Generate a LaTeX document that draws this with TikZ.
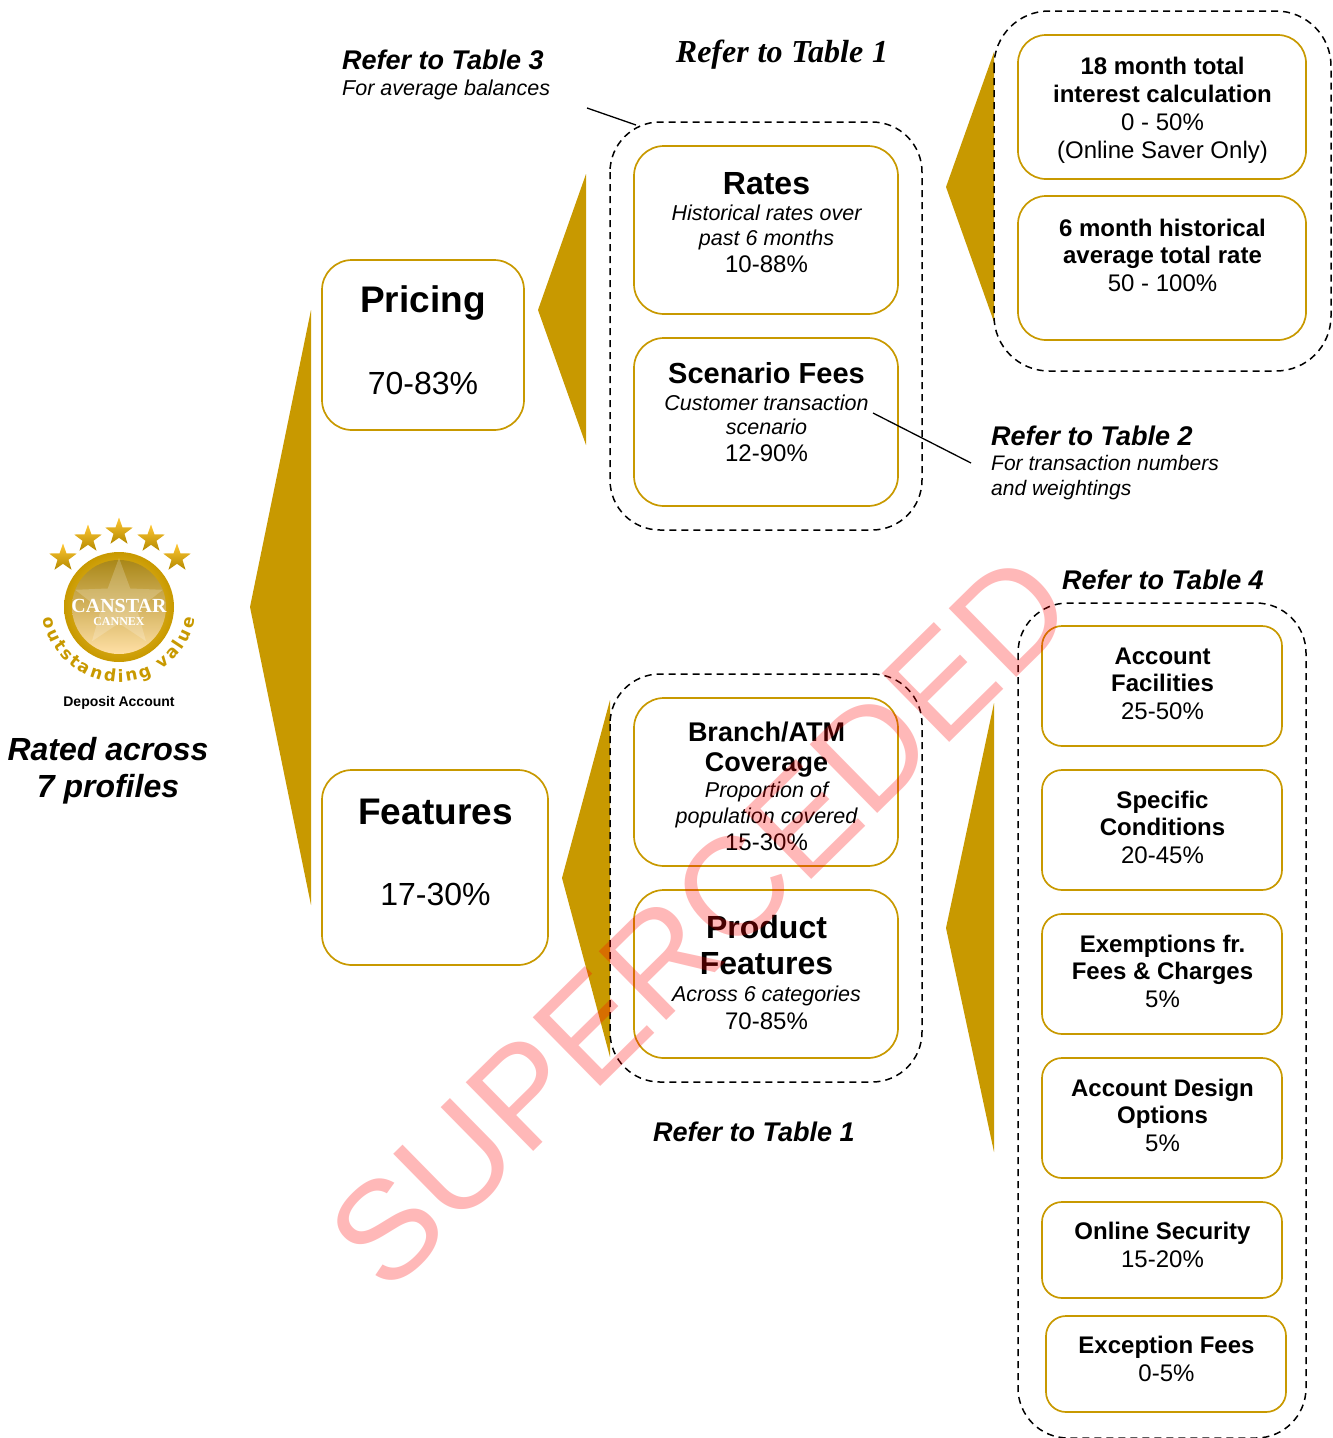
\documentclass[tikz,border=0pt]{standalone}
\usepackage{fontspec}
\setmainfont{Liberation Sans}
\newfontfamily\tnrfont{Liberation Serif}
\newfontfamily\djvfont{DejaVu Sans}
\usetikzlibrary{shapes.geometric,decorations.text,calc}
\definecolor{gold}{HTML}{C89900}
\newcommand{\LL}[3]{{\fontsize{#1}{#2}\selectfont\spaceskip=.278em\xspaceskip=.278em\rule{0pt}{.75em}#3\par}}
\tikzset{
 x=1pt,y=-1pt,
 goldbox/.style={draw=gold,line width=1.7pt,rounded corners=#1,inner sep=0pt,fill=none},
 goldbox/.default=30pt,
 dashbox/.style={draw=black,line width=1.5pt,dash pattern=on 7pt off 5pt,rounded corners=#1,fill=none},
 wedge/.style={fill=gold,draw=none},
 txt/.style={anchor=north,inner sep=0pt,align=center,text width=#1,execute at begin node={\lineskiplimit=-200pt\relax}},
 txt/.default=320pt,
 lefttxt/.style={anchor=north west,inner sep=0pt,align=left,text width=300pt,execute at begin node={\lineskiplimit=-200pt\relax}},
 goldstar/.style={star,star points=5,star point ratio=2.5,minimum size=29pt,inner sep=0pt,top color=#1,bottom color=gold!90!black,draw=none},
 goldstar/.default={yellow!45!orange!80!white},
}
\begin{document}
\begin{tikzpicture}
\useasboundingbox (0,0) rectangle (1333,1438);
% wedges
\fill[wedge] (311,310) -- (250,607) -- (311,905) -- cycle;
\fill[wedge] (586,174) -- (538,310) -- (586,445) -- cycle;
\fill[wedge] (994,52) -- (946,187) -- (994,322) -- cycle;
\fill[wedge] (610,700) -- (562,878) -- (610,1057) -- cycle;
\fill[wedge] (994,703) -- (946,928) -- (994,1152) -- cycle;
% dashed groups
\draw[dashbox=50pt] (610,122) rectangle (922,530);
\draw[dashbox=55pt] (994,11) rectangle (1331,371);
\draw[dashbox=50pt] (610,674) rectangle (922,1082);
\draw[dashbox=50pt] (1018,603) rectangle (1306,1438);
% boxes
\draw[goldbox=30pt] (322,260) rectangle (524,430);
\draw[goldbox=30pt] (322,770) rectangle (548,965);
\draw[goldbox=30pt] (634,146) rectangle (898,314);
\draw[goldbox=30pt] (634,338) rectangle (898,506);
\draw[goldbox=30pt] (634,698) rectangle (898,866);
\draw[goldbox=30pt] (634,890) rectangle (898,1058);
\draw[goldbox=28pt] (1018,35) rectangle (1306,179);
\draw[goldbox=28pt] (1018,196) rectangle (1306,340);
\draw[goldbox=20pt] (1042,626) rectangle (1282,746);
\draw[goldbox=20pt] (1042,770) rectangle (1282,890);
\draw[goldbox=20pt] (1042,914) rectangle (1282,1034);
\draw[goldbox=20pt] (1042,1058) rectangle (1282,1178);
\draw[goldbox=20pt] (1042,1202) rectangle (1282,1298);
\draw[goldbox=20pt] (1046,1316) rectangle (1286,1412);
% connectors
\coordinate (t3a) at (587,108); \coordinate (t3b) at (636,125);
\coordinate (t2a) at (873,413); \coordinate (t2b) at (971,463);
\draw[line width=1.3pt] (t3a) -- (t3b);
\draw[line width=1.3pt] (t2a) -- (t2b);
% logo
\shade[inner color=yellow!50!orange!70!white,outer color=gold] (119,607) circle (55);
\shade[top color=gold!80!black!90!white,bottom color=yellow!30!orange!35!white] (119,607) circle (47);
\node[star,star points=5,star point ratio=2.4,minimum size=92pt,inner sep=0pt,fill=white,fill opacity=.2] (bigstar) at (119,604) {};
\node[goldstar] (s1) at (63,558) {};
\node[goldstar] (s2) at (88,539) {};
\node[goldstar] (s3) at (119,532) {};
\node[goldstar] (s4) at (151,539) {};
\node[goldstar] (s5) at (177,558) {};
\node[inner sep=0pt,text=white] (cs) at (119,606) {\tnrfont\bfseries\fontsize{20}{20}\selectfont CANSTAR};
\node[inner sep=0pt,text=white] (cx) at (119,622) {\tnrfont\bfseries\fontsize{12}{12}\selectfont CANNEX};
\path[decorate,decoration={text along path,text align=fit to path,
 text={|\djvfont\bfseries\fontsize{17}{17}\selectfont\color{gold}|outstanding value}}]
 (119,605) ++(170:77) arc[start angle=170,end angle=10,radius=77];
\node[inner sep=0pt] (da) at (119,703) {\bfseries\fontsize{14}{14}\selectfont Deposit Account};
% texts
\node[txt] (rated) at (108,736) {\bfseries\itshape\LL{32}{37}{Rated across}\LL{32}{37}{7 profiles}};
\node[lefttxt] (ref3) at (342,49) {\LL{27}{27}{\bfseries\itshape Refer to Table 3}\LL{21.5}{26}{\itshape For average balances}};
\node[txt] (ref1a) at (782,38) {\LL{32}{32}{\tnrfont\bfseries\itshape Refer to Table 1}};
\node[lefttxt] (ref2) at (991,425) {\LL{27}{27}{\bfseries\itshape Refer to Table 2}\LL{21}{25}{\itshape For transaction numbers}\LL{21}{25}{\itshape and weightings}};
\node[txt] (ref4) at (1163,569) {\LL{27}{27}{\bfseries\itshape Refer to Table 4}};
\node[txt] (ref1b) at (754,1121) {\LL{27}{27}{\bfseries\itshape Refer to Table 1}};
\node[txt] (pr) at (423,285) {\LL{37}{37}{\bfseries Pricing}\LL{32}{82}{70-83\%}};
\node[txt] (fe) at (435.5,797) {\LL{37}{37}{\bfseries Features}\LL{32}{81}{17-30\%}};
\node[txt] (ra) at (766.5,170) {\LL{32}{32}{\bfseries Rates}\LL{21.5}{26}{\itshape Historical rates over}\LL{21.5}{25}{\itshape past 6 months}\LL{24}{27}{10-88\%}};
\node[txt] (sc) at (766.5,362) {\LL{29}{29}{\bfseries Scenario Fees}\LL{21.5}{27}{\itshape Customer transaction}\LL{21.5}{24}{\itshape scenario}\LL{24}{27}{12-90\%}};
\node[txt] (br) at (766.5,721) {\LL{27}{27}{\bfseries Branch/ATM}\LL{27}{30}{\bfseries Coverage}\LL{21.5}{26}{\itshape Proportion of}\LL{21.5}{26}{\itshape population covered}\LL{24}{27}{15-30\%}};
\node[txt] (pf) at (766.5,914) {\LL{32}{32}{\bfseries Product}\LL{32}{36}{\bfseries Features}\LL{21.5}{27}{\itshape Across 6 categories}\LL{24}{28}{70-85\%}};
\node[txt] (m18) at (1162.5,56) {\LL{24}{24}{\bfseries 18 month total}\LL{24}{28}{\bfseries interest calculation}\LL{24}{28}{0 - 50\%}\LL{24}{28}{(Online Saver Only)}};
\node[txt] (m6) at (1162.5,218) {\LL{24}{24}{\bfseries 6 month historical}\LL{24}{27}{\bfseries average total rate}\LL{24}{28}{50 - 100\%}};
\node[txt] (af) at (1162.5,646) {\LL{24}{24}{\bfseries Account}\LL{24}{27}{\bfseries Facilities}\LL{24}{28}{25-50\%}};
\node[txt] (sp) at (1162.5,790) {\LL{24}{24}{\bfseries Specific}\LL{24}{27}{\bfseries Conditions}\LL{24}{28}{20-45\%}};
\node[txt] (ex) at (1162.5,934) {\LL{24}{24}{\bfseries Exemptions fr.}\LL{24}{27}{\bfseries Fees \& Charges}\LL{24}{28}{5\%}};
\node[txt] (ad) at (1162.5,1078) {\LL{24}{24}{\bfseries Account Design}\LL{24}{27}{\bfseries Options}\LL{24}{28}{5\%}};
\node[txt] (os) at (1162.5,1221) {\LL{24}{24}{\bfseries Online Security}\LL{24}{28}{15-20\%}};
\node[txt] (ef) at (1166.5,1335) {\LL{24}{24}{\bfseries Exception Fees}\LL{24}{28}{0-5\%}};
% watermark
\node[inner sep=0pt,rotate=44.5,text=red,text opacity=.28] (wm) at (700,921) {\fontsize{140}{140}\selectfont SUPERCEDED};
\end{tikzpicture}
\end{document}
